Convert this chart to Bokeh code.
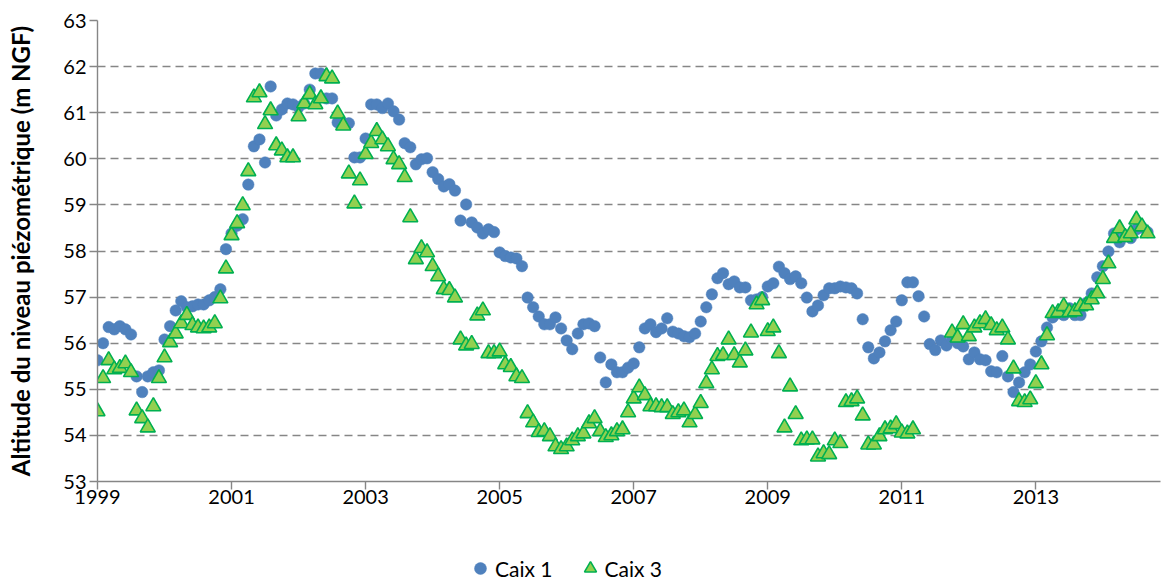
import numpy as np
from bokeh.plotting import figure
from bokeh.layouts import column
from bokeh.models import Range1d, FixedTicker, Legend, LegendItem, ColumnDataSource
from bokeh.embed import file_html
from bokeh.resources import INLINE

# Monthly readings starting January 1999
start_year = 1999
series_names = ["Caix 1", "Caix 3"]

caix1 = [
    55.63, 56.00, 56.35, 56.30, 56.37, 56.30, 56.19, 55.28, 54.94, 55.28,
    55.37, 55.41, 56.08, 56.37, 56.71, 56.91, 56.78, 56.80, 56.84, 56.84,
    56.93, 57.00, 57.17, 58.04, 58.38, 58.55, 58.69, 59.44, 60.27, 60.42,
    59.92, 61.57, 60.94, 61.07, 61.20, 61.18, 61.12, 61.20, 61.50, 61.85,
    61.85, 61.31, 61.31, 60.79, 60.77, 60.77, 60.03, 60.03, 60.44, 61.18,
    61.18, 61.10, 61.20, 61.03, 60.85, 60.34, 60.25, 59.88, 59.99, 60.01,
    59.71, 59.56, 59.40, 59.45, 59.31, 58.66, 59.01, 58.62, 58.51, 58.38,
    58.47, 58.41, 57.97, 57.89, 57.86, 57.84, 57.67, 56.99, 56.78, 56.58,
    56.41, 56.41, 56.56, 56.32, 56.06, 55.87, 56.21, 56.41, 56.43, 56.37,
    55.69, 55.15, 55.54, 55.37, 55.37, 55.47, 55.56, 55.91, 56.32, 56.41,
    56.24, 56.32, 56.54, 56.25, 56.21, 56.15, 56.13, 56.21, 56.47, 56.78,
    57.06, 57.41, 57.52, 57.28, 57.34, 57.21, 57.21, 56.93, 56.95, 57.00,
    57.23, 57.30, 57.66, 57.52, 57.39, 57.45, 57.30, 56.99, 56.69, 56.82,
    57.04, 57.19, 57.19, 57.23, 57.21, 57.19, 57.08, 56.52, 55.91, 55.67,
    55.80, 56.04, 56.28, 56.47, 56.93, 57.32, 57.32, 57.02, 56.58, 55.98,
    55.85, 56.06, 55.95, 56.08, 56.00, 55.93, 55.65, 55.80, 55.65, 55.63,
    55.39, 55.37, 55.72, 55.28, 54.94, 55.15, 55.37, 55.54, 55.82, 56.04,
    56.34, 56.56, 56.65, 56.61, 56.76, 56.61, 56.61, 56.87, 57.08, 57.43,
    57.67, 57.99, 58.38, 58.19, 58.32, 58.28, 58.47, 58.51, 58.41,
]

caix3 = [
    54.52, 55.24, 55.63, 55.43, 55.46, 55.56, 55.37, 54.54, 54.37, 54.17,
    54.63, 55.24, 55.69, 56.02, 56.21, 56.43, 56.61, 56.39, 56.34, 56.32,
    56.34, 56.43, 56.97, 57.62, 58.34, 58.60, 58.99, 59.73, 61.33, 61.44,
    60.75, 61.05, 60.29, 60.18, 60.03, 60.03, 60.92, 61.20, 61.40, 61.18,
    61.31, 61.79, 61.74, 60.98, 60.72, 59.68, 59.03, 59.53, 60.10, 60.34,
    60.60, 60.42, 60.27, 59.99, 59.88, 59.60, 58.73, 57.82, 58.06, 57.97,
    57.67, 57.45, 57.17, 57.15, 56.99, 56.08, 55.95, 55.98, 56.60, 56.71,
    55.78, 55.78, 55.82, 55.54, 55.48, 55.28, 55.24, 54.48, 54.28, 54.07,
    54.09, 53.98, 53.76, 53.70, 53.76, 53.89, 53.98, 54.04, 54.26, 54.37,
    54.09, 53.96, 54.00, 54.09, 54.13, 54.50, 54.80, 55.04, 54.87, 54.63,
    54.63, 54.61, 54.61, 54.46, 54.50, 54.54, 54.28, 54.46, 54.70, 55.13,
    55.43, 55.72, 55.74, 56.08, 55.74, 55.58, 55.84, 56.23, 56.84, 56.93,
    56.26, 56.34, 55.78, 54.17, 55.06, 54.46, 53.89, 53.91, 53.91, 53.54,
    53.61, 53.59, 53.89, 53.83, 54.72, 54.74, 54.80, 54.43, 53.80, 53.80,
    53.98, 54.13, 54.15, 54.24, 54.06, 54.04, 54.13, None, None, None,
    None, None, None, 56.23, 56.12, 56.41, 56.15, 56.34, 56.43, 56.52,
    56.39, 56.28, 56.34, 56.08, 55.45, 54.74, 54.72, 54.78, 55.13, 55.54,
    56.17, 56.65, 56.67, 56.80, 56.67, 56.69, 56.80, 56.82, 56.95, 57.08,
    57.39, 57.73, 58.28, 58.49, 58.30, 58.38, 58.68, 58.53, 58.38,
]

x_ticks = [1999, 2001, 2003, 2005, 2007, 2009, 2011, 2013]
y_ticks = [53, 54, 55, 56, 57, 58, 59, 60, 61, 62, 63]
y_label = "Altitude du niveau piézométrique (m NGF)"


def to_source(values):
    xs, ys = [], []
    for i, v in enumerate(values):
        if v is None:
            continue
        xs.append(start_year + i / 12.0)
        ys.append(v)
    return ColumnDataSource(data=dict(x=xs, y=ys))


FONT = "Lato"
AXIS_GREY = "#868686"
TICK_FS = "20px"
C1_STYLE = dict(marker="circle", fill_color="#4F81BD", line_color="#4F81BD", line_width=0.5)
C3_STYLE = dict(marker="triangle", fill_color="#92D050", line_color="#00B050", line_width=1.6)

# ---- main chart ----
p = figure(
    width=1162, height=521,
    output_backend="svg", toolbar_location=None,
    x_range=Range1d(1999, 2014.86), y_range=Range1d(53, 63),
    min_border_left=97, min_border_right=2, min_border_top=20, min_border_bottom=40,
)
p.outline_line_color = None
p.background_fill_color = "white"
p.border_fill_color = "white"

p.xgrid.visible = False
p.ygrid.ticker = FixedTicker(ticks=y_ticks)
p.ygrid.grid_line_color = AXIS_GREY
p.ygrid.grid_line_width = 1.4
p.ygrid.grid_line_dash = "8 5"

for ax in (p.xaxis[0], p.yaxis[0]):
    ax.axis_line_color = AXIS_GREY
    ax.axis_line_width = 1.4
    ax.major_tick_line_color = AXIS_GREY
    ax.major_tick_line_width = 1.4
    ax.major_tick_out = 8
    ax.major_tick_in = 0
    ax.minor_tick_out = 0
    ax.minor_tick_in = 0
    ax.major_label_text_font = FONT
    ax.major_label_text_font_size = TICK_FS
    ax.major_label_text_color = "black"

p.xaxis.ticker = FixedTicker(ticks=x_ticks)
p.xaxis.major_label_standoff = 0
p.yaxis.ticker = FixedTicker(ticks=y_ticks)
p.yaxis.major_label_standoff = 3
p.yaxis.axis_label = y_label
p.yaxis.axis_label_text_font = FONT
p.yaxis.axis_label_text_font_style = "bold"
p.yaxis.axis_label_text_font_size = "24px"
p.yaxis.axis_label_text_color = "black"
p.yaxis.axis_label_standoff = 25

r1 = p.scatter("x", "y", source=to_source(caix1), size=11.5, **C1_STYLE)
r3 = p.scatter("x", "y", source=to_source(caix3), size=15, **C3_STYLE)

# ---- legend strip below the chart ----
pl = figure(
    width=1162, height=61,
    output_backend="svg", toolbar_location=None,
    x_axis_type=None, y_axis_type=None,
    x_range=Range1d(0, 1), y_range=Range1d(0, 1),
    min_border_left=97, min_border_right=2, min_border_top=0, min_border_bottom=0,
)
pl.outline_line_color = None
pl.background_fill_color = "white"
pl.border_fill_color = "white"
# hidden stand-ins (outside the visible range) so the legend can draw its glyphs
l1 = pl.scatter(x=[-9], y=[-9], **C1_STYLE)
l3 = pl.scatter(x=[-9], y=[-9], **C3_STYLE)

legend = Legend(
    items=[LegendItem(label=series_names[0], renderers=[l1]),
           LegendItem(label=series_names[1], renderers=[l3])],
    location=(368, -1), orientation="horizontal",
    glyph_width=30, glyph_height=30, label_standoff=0, spacing=22,
    padding=0, margin=0,
    border_line_color=None, background_fill_alpha=0,
    label_text_font=FONT, label_text_font_size="21px", label_text_color="black",
)
pl.add_layout(legend, "center")

layout = column(p, pl, spacing=0)
open("out.html", "w").write(file_html(layout, INLINE))
